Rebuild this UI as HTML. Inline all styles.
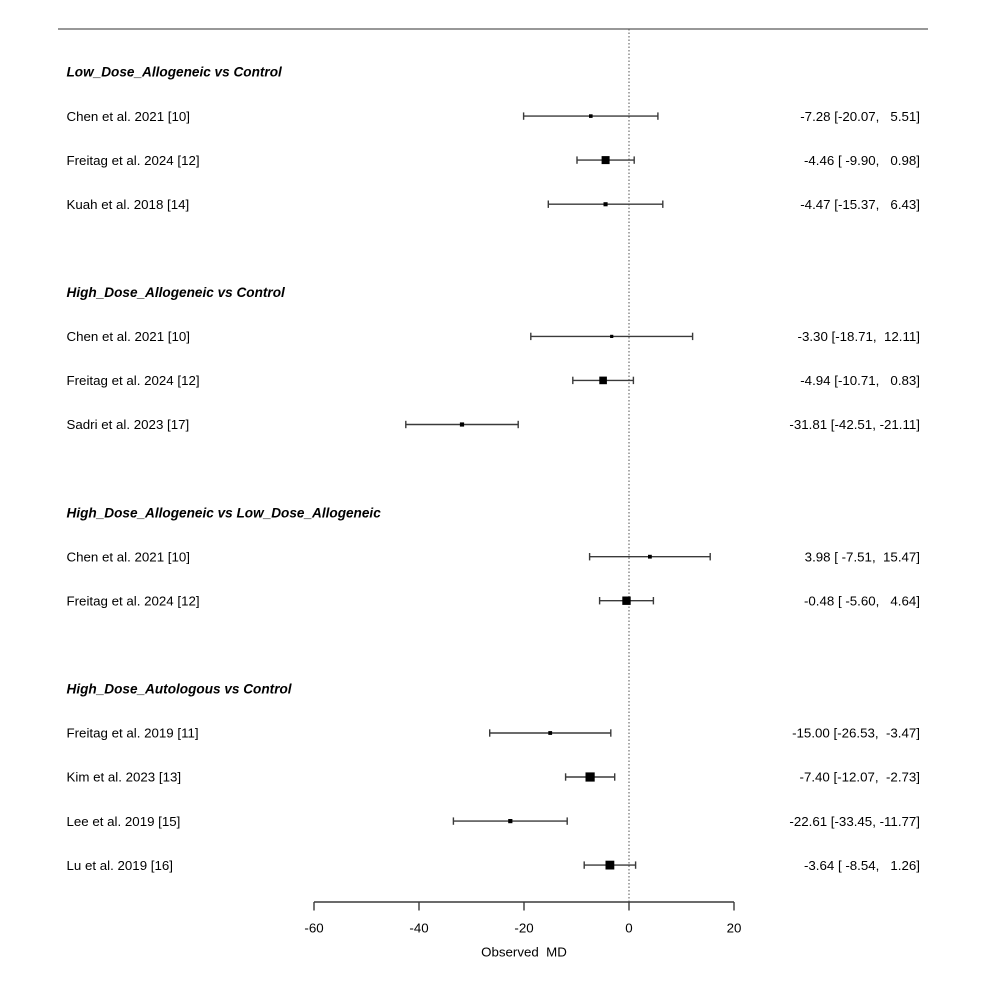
<!DOCTYPE html>
<html>
<head>
<meta charset="utf-8">
<style>
  html,body{margin:0;padding:0;background:#fff;}
  svg{display:block;}
  text{font-family:"Liberation Sans",Arial,sans-serif;font-size:13.3px;fill:#000;white-space:pre;}
  .h{font-weight:bold;font-style:italic;font-size:13.6px;}
  .r{text-anchor:end;}
  .c{text-anchor:middle;}
</style>
</head>
<body>
<svg width="986" height="986" viewBox="0 0 986 986" xmlns="http://www.w3.org/2000/svg">
  <rect width="986" height="986" fill="#fff"/>
  <!-- top line -->
  <line x1="58" y1="29" x2="928" y2="29" stroke="#777" stroke-width="1.4"/>
  <!-- reference dotted line -->
  <line x1="629" y1="29" x2="629" y2="902" stroke="#555" stroke-width="1" stroke-dasharray="1.5,2"/>

  <!-- headers -->
  <text class="h" x="66.5" y="76.7">Low_Dose_Allogeneic vs Control</text>
  <text class="h" x="66.5" y="297">High_Dose_Allogeneic vs Control</text>
  <text class="h" x="66.5" y="517.3">High_Dose_Allogeneic vs Low_Dose_Allogeneic</text>
  <text class="h" x="66.5" y="693.5">High_Dose_Autologous vs Control</text>

  <!-- study labels -->
  <text x="66.5" y="120.8">Chen et al. 2021 [10]</text>
  <text x="66.5" y="164.8">Freitag et al. 2024 [12]</text>
  <text x="66.5" y="208.9">Kuah et al. 2018 [14]</text>
  <text x="66.5" y="341.1">Chen et al. 2021 [10]</text>
  <text x="66.5" y="385.1">Freitag et al. 2024 [12]</text>
  <text x="66.5" y="429.2">Sadri et al. 2023 [17]</text>
  <text x="66.5" y="561.4">Chen et al. 2021 [10]</text>
  <text x="66.5" y="605.4">Freitag et al. 2024 [12]</text>
  <text x="66.5" y="737.7">Freitag et al. 2019 [11]</text>
  <text x="66.5" y="781.7">Kim et al. 2023 [13]</text>
  <text x="66.5" y="825.8">Lee et al. 2019 [15]</text>
  <text x="66.5" y="869.8">Lu et al. 2019 [16]</text>

  <!-- right annotations -->
  <text class="r" x="920" y="120.8">-7.28 [-20.07,   5.51]</text>
  <text class="r" x="920" y="164.8">-4.46 [ -9.90,   0.98]</text>
  <text class="r" x="920" y="208.9">-4.47 [-15.37,   6.43]</text>
  <text class="r" x="920" y="341.1">-3.30 [-18.71,  12.11]</text>
  <text class="r" x="920" y="385.1">-4.94 [-10.71,   0.83]</text>
  <text class="r" x="920" y="429.2">-31.81 [-42.51, -21.11]</text>
  <text class="r" x="920" y="561.4">3.98 [ -7.51,  15.47]</text>
  <text class="r" x="920" y="605.4">-0.48 [ -5.60,   4.64]</text>
  <text class="r" x="920" y="737.7">-15.00 [-26.53,  -3.47]</text>
  <text class="r" x="920" y="781.7">-7.40 [-12.07,  -2.73]</text>
  <text class="r" x="920" y="825.8">-22.61 [-33.45, -11.77]</text>
  <text class="r" x="920" y="869.8">-3.64 [ -8.54,   1.26]</text>

  <!-- CI bars -->
  <g stroke="#3a3a3a" stroke-width="1.4" fill="none">
    <line x1="523.6" y1="116.1" x2="657.9" y2="116.1"/>
    <line x1="523.6" y1="112.4" x2="523.6" y2="119.8"/>
    <line x1="657.9" y1="112.4" x2="657.9" y2="119.8"/>

    <line x1="577.0" y1="160.1" x2="634.2" y2="160.1"/>
    <line x1="577.0" y1="156.4" x2="577.0" y2="163.8"/>
    <line x1="634.2" y1="156.4" x2="634.2" y2="163.8"/>

    <line x1="548.3" y1="204.2" x2="662.8" y2="204.2"/>
    <line x1="548.3" y1="200.5" x2="548.3" y2="207.9"/>
    <line x1="662.8" y1="200.5" x2="662.8" y2="207.9"/>

    <line x1="530.8" y1="336.4" x2="692.6" y2="336.4"/>
    <line x1="530.8" y1="332.7" x2="530.8" y2="340.1"/>
    <line x1="692.6" y1="332.7" x2="692.6" y2="340.1"/>

    <line x1="572.8" y1="380.4" x2="633.4" y2="380.4"/>
    <line x1="572.8" y1="376.7" x2="572.8" y2="384.1"/>
    <line x1="633.4" y1="376.7" x2="633.4" y2="384.1"/>

    <line x1="405.8" y1="424.5" x2="518.2" y2="424.5"/>
    <line x1="405.8" y1="420.8" x2="405.8" y2="428.2"/>
    <line x1="518.2" y1="420.8" x2="518.2" y2="428.2"/>

    <line x1="589.6" y1="556.7" x2="710.2" y2="556.7"/>
    <line x1="589.6" y1="553.0" x2="589.6" y2="560.4"/>
    <line x1="710.2" y1="553.0" x2="710.2" y2="560.4"/>

    <line x1="599.6" y1="600.7" x2="653.4" y2="600.7"/>
    <line x1="599.6" y1="597.0" x2="599.6" y2="604.4"/>
    <line x1="653.4" y1="597.0" x2="653.4" y2="604.4"/>

    <line x1="489.7" y1="733" x2="610.8" y2="733"/>
    <line x1="489.7" y1="729.3" x2="489.7" y2="736.7"/>
    <line x1="610.8" y1="729.3" x2="610.8" y2="736.7"/>

    <line x1="565.6" y1="777" x2="614.7" y2="777"/>
    <line x1="565.6" y1="773.3" x2="565.6" y2="780.7"/>
    <line x1="614.7" y1="773.3" x2="614.7" y2="780.7"/>

    <line x1="453.4" y1="821.1" x2="567.2" y2="821.1"/>
    <line x1="453.4" y1="817.4" x2="453.4" y2="824.8"/>
    <line x1="567.2" y1="817.4" x2="567.2" y2="824.8"/>

    <line x1="584.2" y1="865.1" x2="635.6" y2="865.1"/>
    <line x1="584.2" y1="861.4" x2="584.2" y2="868.8"/>
    <line x1="635.6" y1="861.4" x2="635.6" y2="868.8"/>
  </g>

  <!-- squares -->
  <g fill="#000">
    <rect x="589.0" y="114.3" width="3.6" height="3.6"/>
    <rect x="601.6" y="156.1" width="8.0" height="8.0"/>
    <rect x="603.5" y="202.2" width="4.1" height="4.1"/>
    <rect x="610.1" y="334.8" width="3.2" height="3.2"/>
    <rect x="599.3" y="376.6" width="7.6" height="7.6"/>
    <rect x="459.9" y="422.4" width="4.2" height="4.2"/>
    <rect x="648.0" y="554.8" width="3.8" height="3.8"/>
    <rect x="622.3" y="596.5" width="8.4" height="8.4"/>
    <rect x="548.3" y="731.1" width="3.8" height="3.8"/>
    <rect x="585.5" y="772.4" width="9.2" height="9.2"/>
    <rect x="508.2" y="819.0" width="4.2" height="4.2"/>
    <rect x="605.5" y="860.7" width="8.8" height="8.8"/>
  </g>

  <!-- x axis -->
  <g stroke="#3a3a3a" stroke-width="1.4">
    <line x1="314" y1="902" x2="734" y2="902"/>
    <line x1="314" y1="902" x2="314" y2="910.5"/>
    <line x1="419" y1="902" x2="419" y2="910.5"/>
    <line x1="524" y1="902" x2="524" y2="910.5"/>
    <line x1="629" y1="902" x2="629" y2="910.5"/>
    <line x1="734" y1="902" x2="734" y2="910.5"/>
  </g>
  <text class="c" x="314" y="932.5">-60</text>
  <text class="c" x="419" y="932.5">-40</text>
  <text class="c" x="524" y="932.5">-20</text>
  <text class="c" x="629" y="932.5">0</text>
  <text class="c" x="734" y="932.5">20</text>
  <text class="c" x="524" y="956.5">Observed  MD</text>
</svg>
</body>
</html>
